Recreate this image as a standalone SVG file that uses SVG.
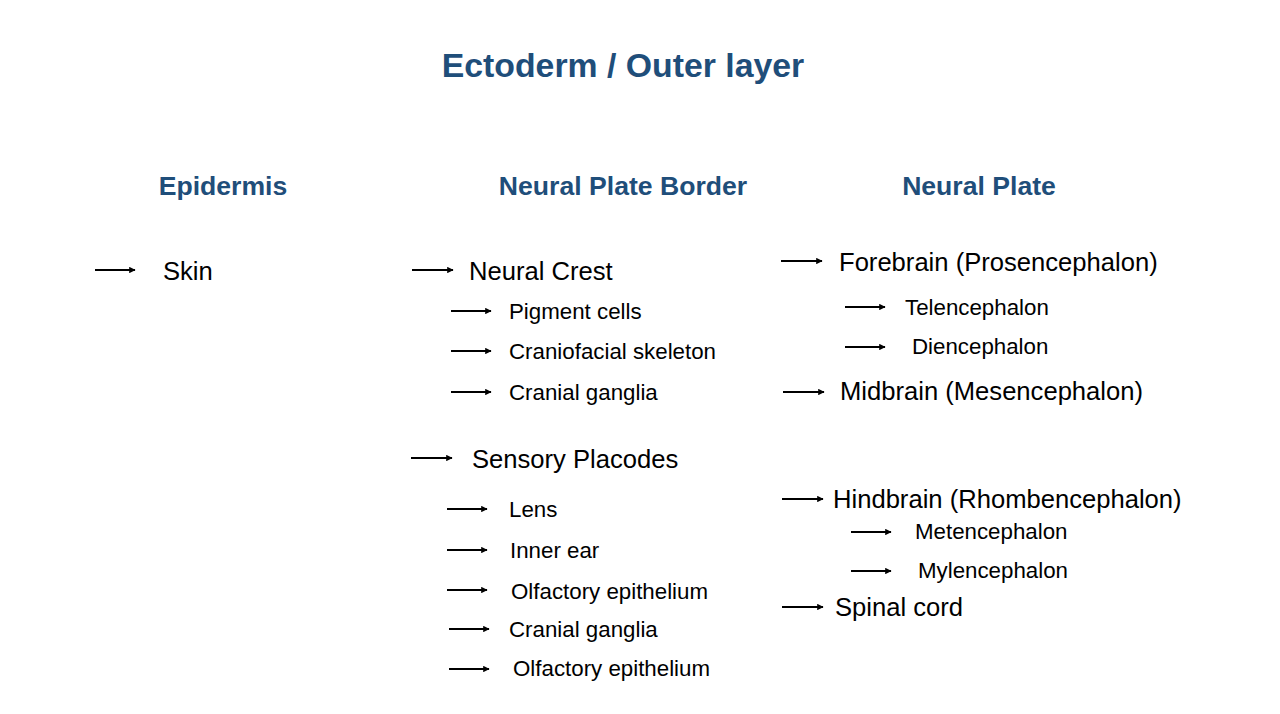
<svg xmlns="http://www.w3.org/2000/svg" width="1280" height="714" viewBox="0 0 1280 714">
<defs>
<marker id="ah" viewBox="0 0 10 10" refX="9" refY="5" markerWidth="3.6" markerHeight="3.6" orient="auto" markerUnits="strokeWidth">
<path d="M0,0 L10,5 L0,10 z" fill="#000"/>
</marker>
<style>
.title{font-family:"Liberation Sans",Arial,sans-serif;font-weight:bold;font-size:33.8px;fill:#1f4e7a;text-anchor:middle}
.head{font-family:"Liberation Sans",Arial,sans-serif;font-weight:bold;font-size:26.6px;fill:#1f4e7a;text-anchor:middle}
.l1{font-family:"Liberation Sans",Arial,sans-serif;font-size:25.6px;fill:#000}
.l2{font-family:"Liberation Sans",Arial,sans-serif;font-size:22.3px;fill:#000}
.arr{stroke:#000;stroke-width:1.8;fill:none;marker-end:url(#ah)}
</style>
</defs>
<rect width="1280" height="714" fill="#fff"/>
<text id="title" class="title" x="623" y="77">Ectoderm / Outer layer</text>
<g id="headers">
<text id="h-epidermis" class="head" x="223" y="195">Epidermis</text>
<text id="h-npb" class="head" x="623" y="195">Neural Plate Border</text>
<text id="h-np" class="head" x="979" y="195">Neural Plate</text>
</g>
<g id="connectors">
<line class="arr" x1="95" y1="270" x2="135" y2="270"/>
<line class="arr" x1="412" y1="270" x2="453" y2="270"/>
<line class="arr" x1="451" y1="311" x2="491" y2="311"/>
<line class="arr" x1="451" y1="351" x2="491" y2="351"/>
<line class="arr" x1="451" y1="392" x2="491" y2="392"/>
<line class="arr" x1="411" y1="458" x2="452" y2="458"/>
<line class="arr" x1="447" y1="509" x2="487" y2="509"/>
<line class="arr" x1="447" y1="550" x2="487" y2="550"/>
<line class="arr" x1="447" y1="590" x2="487" y2="590"/>
<line class="arr" x1="449" y1="629" x2="489" y2="629"/>
<line class="arr" x1="449" y1="669" x2="489" y2="669"/>
<line class="arr" x1="781" y1="261" x2="822" y2="261"/>
<line class="arr" x1="845" y1="307" x2="885" y2="307"/>
<line class="arr" x1="845" y1="347" x2="885" y2="347"/>
<line class="arr" x1="783" y1="392" x2="824" y2="392"/>
<line class="arr" x1="782" y1="499" x2="823" y2="499"/>
<line class="arr" x1="851" y1="532" x2="891" y2="532"/>
<line class="arr" x1="851" y1="571" x2="891" y2="571"/>
<line class="arr" x1="782" y1="607" x2="823" y2="607"/>
</g>
<g id="n-skin"><text class="l1" x="163" y="280">Skin</text></g>
<g id="n-neural-crest"><text class="l1" x="469" y="280">Neural Crest</text></g>
<g id="n-pigment"><text class="l2" x="509" y="319">Pigment cells</text></g>
<g id="n-craniofacial"><text class="l2" x="509" y="359">Craniofacial skeleton</text></g>
<g id="n-cranial1"><text class="l2" x="509" y="400">Cranial ganglia</text></g>
<g id="n-sensory"><text class="l1" x="472" y="468">Sensory Placodes</text></g>
<g id="n-lens"><text class="l2" x="509" y="517">Lens</text></g>
<g id="n-inner-ear"><text class="l2" x="510" y="558">Inner ear</text></g>
<g id="n-olf1"><text class="l2" x="511" y="599">Olfactory epithelium</text></g>
<g id="n-cranial2"><text class="l2" x="509" y="637">Cranial ganglia</text></g>
<g id="n-olf2"><text class="l2" x="513" y="676">Olfactory epithelium</text></g>
<g id="n-forebrain"><text class="l1" x="839" y="271">Forebrain (Prosencephalon)</text></g>
<g id="n-telen"><text class="l2" x="905" y="315">Telencephalon</text></g>
<g id="n-dien"><text class="l2" x="912" y="354">Diencephalon</text></g>
<g id="n-midbrain"><text class="l1" x="840" y="400">Midbrain (Mesencephalon)</text></g>
<g id="n-hindbrain"><text class="l1" x="833" y="508">Hindbrain (Rhombencephalon)</text></g>
<g id="n-meten"><text class="l2" x="915" y="539">Metencephalon</text></g>
<g id="n-mylen"><text class="l2" x="918" y="578">Mylencephalon</text></g>
<g id="n-spinal"><text class="l1" x="835" y="616">Spinal cord</text></g>
</svg>
